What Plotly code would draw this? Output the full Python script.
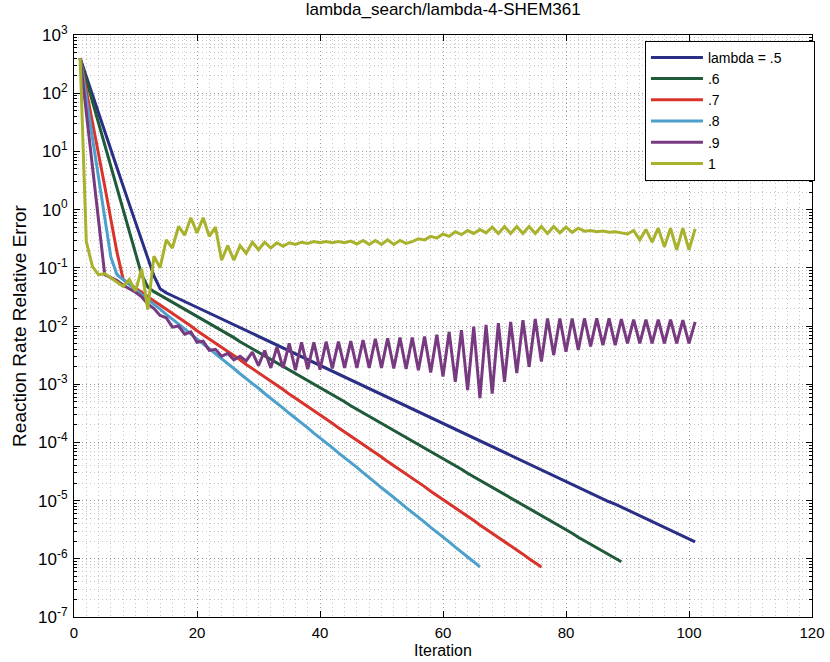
import plotly.graph_objects as go

# ---- data (log10 of relative error) ----
iterations = list(range(1, 102))

log_err_05 = [2.60, 2.28, 1.96, 1.65, 1.33, 1.02, 0.71, 0.40, 0.09, -0.22,
              -0.53, -0.84, -1.14, -1.36, -1.43, -1.48, -1.53, -1.58, -1.63, -1.68,
              -1.73, -1.78, -1.83, -1.88, -1.93, -1.98, -2.03, -2.08, -2.13, -2.18,
              -2.23, -2.28, -2.33, -2.38, -2.43, -2.48, -2.53, -2.58, -2.63, -2.68,
              -2.73, -2.78, -2.83, -2.88, -2.93, -2.98, -3.03, -3.08, -3.13, -3.18,
              -3.23, -3.28, -3.33, -3.37, -3.42, -3.47, -3.52, -3.57, -3.62, -3.67,
              -3.72, -3.77, -3.82, -3.87, -3.92, -3.97, -4.02, -4.07, -4.12, -4.17,
              -4.22, -4.27, -4.32, -4.37, -4.42, -4.47, -4.52, -4.57, -4.62, -4.67,
              -4.72, -4.77, -4.82, -4.87, -4.92, -4.97, -5.02, -5.06, -5.11, -5.16,
              -5.21, -5.26, -5.31, -5.36, -5.41, -5.46, -5.51, -5.56, -5.61, -5.66,
              -5.71]

log_err_06 = [2.60, 2.23, 1.86, 1.49, 1.12, 0.74, 0.37, -0.01, -0.38, -0.75,
              -1.12, -1.33, -1.41, -1.47, -1.53, -1.59, -1.65, -1.72, -1.78, -1.84,
              -1.90, -1.96, -2.02, -2.08, -2.14, -2.20, -2.27, -2.33, -2.39, -2.45,
              -2.51, -2.57, -2.63, -2.69, -2.75, -2.82, -2.88, -2.94, -3.00, -3.06,
              -3.12, -3.18, -3.24, -3.30, -3.37, -3.43, -3.49, -3.55, -3.61, -3.67,
              -3.73, -3.79, -3.85, -3.91, -3.98, -4.04, -4.10, -4.16, -4.22, -4.28,
              -4.34, -4.40, -4.46, -4.53, -4.59, -4.65, -4.71, -4.77, -4.83, -4.89,
              -4.95, -5.01, -5.08, -5.14, -5.20, -5.26, -5.32, -5.38, -5.44, -5.50,
              -5.56, -5.63, -5.69, -5.75, -5.81, -5.87, -5.93, -5.99, -6.05]

log_err_07 = [2.60, 2.06, 1.51, 0.96, 0.40, -0.17, -0.74, -1.20, -1.28, -1.35,
              -1.42, -1.50, -1.57, -1.64, -1.71, -1.79, -1.86, -1.93, -2.00, -2.08,
              -2.15, -2.22, -2.29, -2.37, -2.44, -2.51, -2.58, -2.66, -2.73, -2.80,
              -2.87, -2.95, -3.02, -3.09, -3.17, -3.24, -3.31, -3.38, -3.46, -3.53,
              -3.60, -3.67, -3.75, -3.82, -3.89, -3.96, -4.04, -4.11, -4.18, -4.25,
              -4.33, -4.40, -4.47, -4.54, -4.62, -4.69, -4.76, -4.84, -4.91, -4.98,
              -5.05, -5.13, -5.20, -5.27, -5.34, -5.42, -5.49, -5.56, -5.63, -5.71,
              -5.78, -5.85, -5.92, -6.00, -6.07, -6.14]

log_err_08 = [2.60, 1.91, 1.22, 0.54, -0.14, -0.82, -1.12, -1.20, -1.29, -1.37,
              -1.46, -1.54, -1.63, -1.71, -1.80, -1.88, -1.97, -2.05, -2.14, -2.22,
              -2.31, -2.39, -2.48, -2.56, -2.65, -2.73, -2.82, -2.90, -2.99, -3.07,
              -3.16, -3.24, -3.33, -3.41, -3.50, -3.58, -3.67, -3.75, -3.84, -3.92,
              -4.01, -4.09, -4.18, -4.26, -4.35, -4.43, -4.52, -4.60, -4.69, -4.78,
              -4.86, -4.95, -5.03, -5.12, -5.20, -5.29, -5.37, -5.46, -5.54, -5.63,
              -5.71, -5.80, -5.88, -5.97, -6.05, -6.14]

log_err_09 = [2.60, 1.65, 0.70, -0.25, -1.12, -1.17, -1.22, -1.30, -1.36, -1.42,
              -1.50, -1.62, -1.70, -1.82, -1.86, -2.02, -2.00, -2.14, -2.10, -2.28,
              -2.26, -2.42, -2.40, -2.52, -2.47, -2.58, -2.52, -2.60, -2.45, -2.68,
              -2.42, -2.72, -2.36, -2.72, -2.30, -2.76, -2.28, -2.74, -2.28, -2.75,
              -2.27, -2.73, -2.27, -2.72, -2.26, -2.72, -2.24, -2.72, -2.22, -2.72,
              -2.21, -2.73, -2.20, -2.74, -2.20, -2.76, -2.18, -2.80, -2.15, -2.87,
              -2.10, -2.96, -2.07, -3.10, -2.01, -3.24, -1.98, -3.16, -1.95, -2.96,
              -1.93, -2.81, -1.90, -2.70, -1.88, -2.61, -1.87, -2.50, -1.87, -2.44,
              -1.87, -2.41, -1.87, -2.35, -1.87, -2.33, -1.87, -2.33, -1.88, -2.30,
              -1.89, -2.30, -1.89, -2.30, -1.89, -2.30, -1.89, -2.30, -1.90, -2.30,
              -1.93]

log_err_10 = [2.60, -0.55, -0.98, -1.12, -1.10, -1.17, -1.24, -1.32, -1.20, -1.40,
              -1.02, -1.72, -0.80, -1.00, -0.52, -0.66, -0.29, -0.44, -0.14, -0.40,
              -0.14, -0.46, -0.30, -0.87, -0.62, -0.87, -0.62, -0.75, -0.56, -0.69,
              -0.56, -0.66, -0.57, -0.63, -0.57, -0.60, -0.56, -0.58, -0.55, -0.57,
              -0.55, -0.57, -0.55, -0.57, -0.54, -0.59, -0.53, -0.60, -0.53, -0.60,
              -0.52, -0.60, -0.53, -0.58, -0.55, -0.50, -0.52, -0.46, -0.49, -0.42,
              -0.46, -0.38, -0.43, -0.36, -0.41, -0.34, -0.40, -0.30, -0.41, -0.29,
              -0.41, -0.29, -0.41, -0.29, -0.41, -0.29, -0.41, -0.29, -0.40, -0.30,
              -0.39, -0.32, -0.37, -0.36, -0.38, -0.37, -0.39, -0.38, -0.40, -0.42,
              -0.36, -0.52, -0.34, -0.56, -0.32, -0.64, -0.32, -0.69, -0.32, -0.69,
              -0.33]

series_names = ["lambda = .5\u00a0\u00a0\u00a0\u00a0\u00a0\u00a0\u00a0", ".6", ".7", ".8", ".9", "1"]
series_logs = [log_err_05, log_err_06, log_err_07, log_err_08, log_err_09, log_err_10]
series_colors = ["#2a2f86", "#1f5a3a", "#d8342c", "#4da0cc", "#77397f", "#a8b22c"]

x_ticks = [0, 20, 40, 60, 80, 100, 120]
y_tick_exponents = [-7, -6, -5, -4, -3, -2, -1, 0, 1, 2, 3]

FONT = "Liberation Sans, Arial, sans-serif"

fig = go.Figure()
for name, logs, color in zip(series_names, series_logs, series_colors):
    fig.add_trace(go.Scatter(
        x=iterations[:len(logs)],
        y=[10 ** v for v in logs],
        mode="lines",
        name=name,
        line=dict(color=color, width=3),
    ))

axis_common = dict(
    showline=True, linecolor="black", linewidth=1, mirror="ticks",
    ticks="inside", ticklen=6, tickcolor="black",
    showgrid=True, gridcolor="#9a9a9a", gridwidth=1, griddash="1px,3px",
    zeroline=False, automargin=False,
)

fig.update_xaxes(
    range=[0, 120], tickmode="array", tickvals=x_ticks,
    tickfont=dict(family=FONT, size=15, color="black"),
    ticklabelstandoff=2,
    title=dict(text="Iteration", font=dict(family=FONT, size=16, color="black"), standoff=4),
    minor=dict(dtick=2, showgrid=True, gridcolor="#c4c4c4", gridwidth=1, griddash="1px,3px", ticks=""),
    **axis_common,
)
fig.update_yaxes(
    type="log", range=[-7, 3],
    tickmode="array",
    tickvals=[10.0 ** e for e in y_tick_exponents],
    ticktext=["10<sup>%d</sup>" % e for e in y_tick_exponents],
    tickfont=dict(family=FONT, size=17, color="black"),
    ticklabelstandoff=2,
    title=dict(text="Reaction Rate Relative Error", font=dict(family=FONT, size=19, color="black"), standoff=6),
    minor=dict(dtick="D1", showgrid=True, gridcolor="#c4c4c4", gridwidth=1, griddash="1px,3px",
               ticks="inside", ticklen=3, tickcolor="black"),
    **axis_common,
)

fig.update_layout(
    width=830, height=662,
    margin=dict(l=74, r=18, t=35, b=45),
    paper_bgcolor="white", plot_bgcolor="white",
    title=dict(text="lambda_search/lambda-4-SHEM361", x=0.534, xanchor="center",
               y=0.995, yanchor="top",
               font=dict(family=FONT, size=17, color="black")),
    legend=dict(x=1.004, y=0.99, xanchor="right", yanchor="top",
                bgcolor="white", bordercolor="black", borderwidth=1,
                font=dict(family=FONT, size=14, color="black"),
                itemwidth=52, tracegroupgap=0),
    showlegend=True,
)

fig.write_html("out.html")
